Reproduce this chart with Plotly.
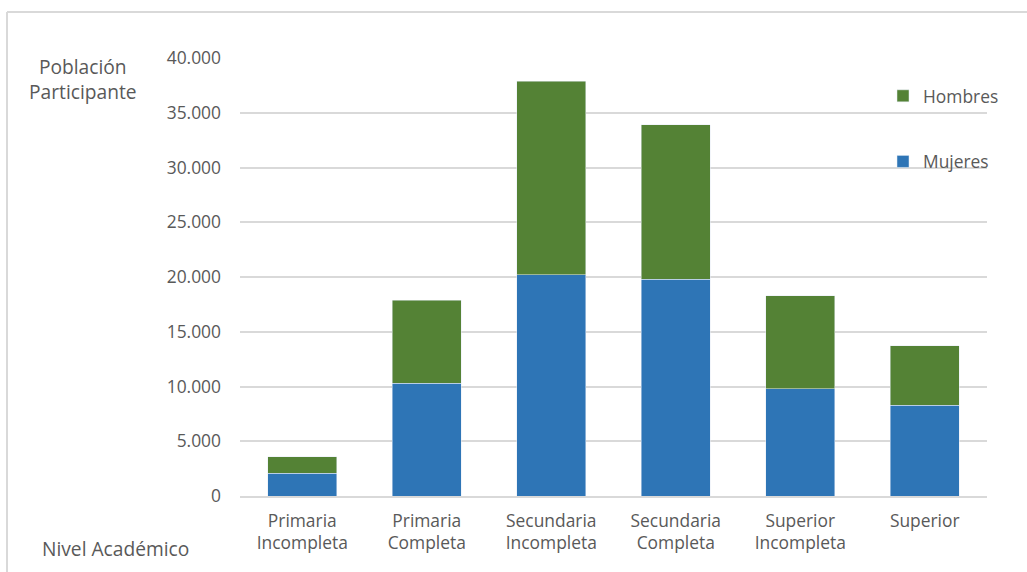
import plotly.graph_objects as go

# Participación por nivel académico, apilado por sexo
niveles = [
    "Primaria<br>Incompleta",
    "Primaria<br>Completa",
    "Secundaria<br>Incompleta",
    "Secundaria<br>Completa",
    "Superior<br>Incompleta",
    "Superior",
]
mujeres = [2100, 10300, 20200, 19800, 9800, 8300]
hombres = [1500, 7600, 17700, 14100, 8500, 5400]
y_ticks = [0, 5000, 10000, 15000, 20000, 25000, 30000, 35000, 40000]

W, H = 1027, 572
L, R, T, B = 240, 987, 58, 496  # plot area in pixels

def px_x(x):
    return (x - L) / (R - L)

def px_y(y):
    return (B - y) / (B - T)

GRAY = "#595959"
FONT = "Open Sans"
TICK = 17.4
TITLE = 19.2

fig = go.Figure()
fig.add_trace(go.Bar(x=niveles, y=mujeres, name="Mujeres", marker_color="#2E75B6",
                     legendgroup="m", legendrank=2, width=0.555))
fig.add_trace(go.Bar(x=niveles, y=hombres, name="Hombres", marker_color="#548235",
                     legendgroup="h", legendrank=1, width=0.555))

fig.update_layout(
    width=W, height=H,
    barmode="stack",
    separators=",.",
    paper_bgcolor="white",
    plot_bgcolor="white",
    margin=dict(l=L, r=W - R, t=T, b=H - B, pad=0),
    font=dict(family=FONT, size=TICK, color=GRAY),
    xaxis=dict(
        showgrid=False, showline=True, linecolor="#D9D9D9", linewidth=1.5,
        ticks="", ticklabelstandoff=8, tickfont=dict(size=TICK, color=GRAY),
    ),
    yaxis=dict(
        range=[0, 40000], tickvals=y_ticks, tickformat=",d",
        showgrid=True, gridcolor="#D9D9D9", gridwidth=1.5,
        zeroline=False, showline=False, ticks="",
        ticklabelstandoff=18, tickfont=dict(size=TICK, color=GRAY),
    ),
    legend=dict(
        x=px_x(883), y=px_y(78), xanchor="left", yanchor="top",
        traceorder="grouped", tracegroupgap=40,
        font=dict(size=TICK, color=GRAY), bgcolor="rgba(0,0,0,0)",
        itemwidth=30,
    ),
    shapes=[
        dict(type="line", xref="paper", yref="paper",
             x0=px_x(7), x1=px_x(W + 5), y0=px_y(12), y1=px_y(12),
             line=dict(color="#D9D9D9", width=2)),
        dict(type="line", xref="paper", yref="paper",
             x0=px_x(7), x1=px_x(7), y0=px_y(12), y1=px_y(H + 5),
             line=dict(color="#D9D9D9", width=2)),
    ],
    annotations=[
        dict(text="Población<br>Participante", xref="paper", yref="paper",
             x=px_x(83), y=px_y(79), xanchor="center", yanchor="middle",
             showarrow=False, align="center", font=dict(size=TITLE, color=GRAY)),
        dict(text="Nivel Académico", xref="paper", yref="paper",
             x=px_x(40), y=px_y(548), xanchor="left", yanchor="middle",
             showarrow=False, font=dict(size=TITLE, color=GRAY)),
    ],
)

fig.write_html("out.html")
